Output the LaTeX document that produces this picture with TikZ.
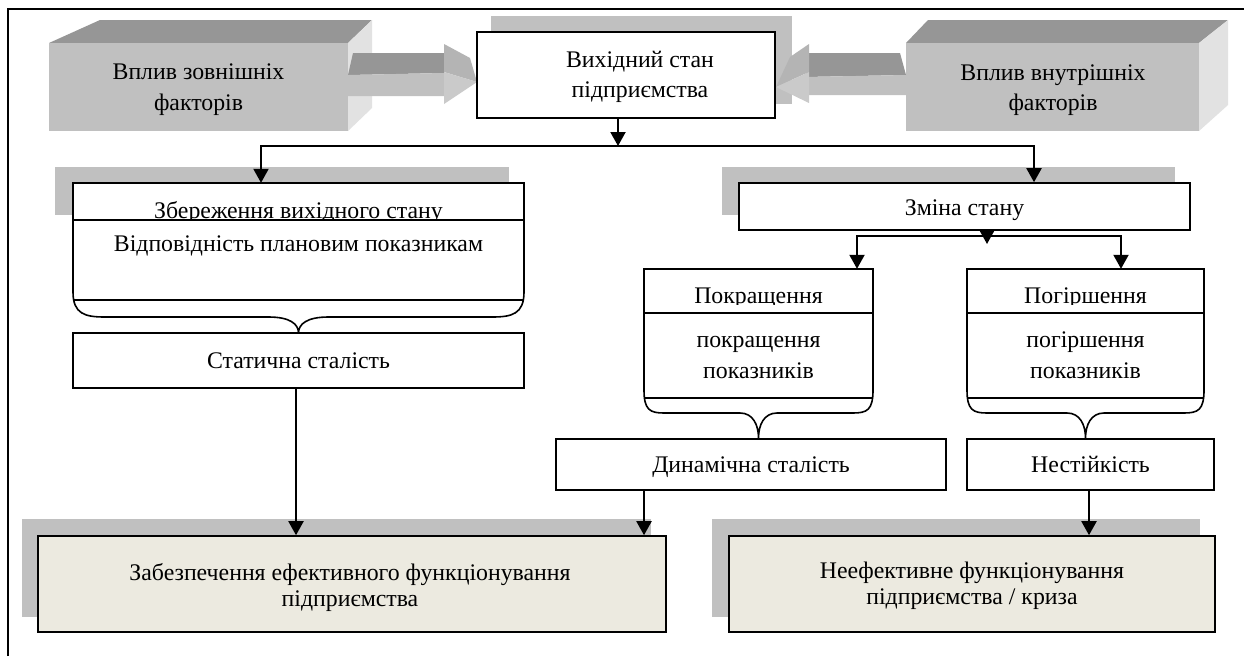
\documentclass[tikz,border=0pt]{standalone}
\usepackage{fontspec}
\setmainfont{Liberation Serif}
\usetikzlibrary{arrows.meta}
\definecolor{facec}{HTML}{C0C0C0}
\definecolor{topc}{HTML}{969696}
\definecolor{sidec}{HTML}{E2E2E2}
\definecolor{shadc}{HTML}{C0C0C0}
\definecolor{beigec}{HTML}{ECEAE0}
\definecolor{headtc}{HTML}{B4B4B4}
\definecolor{headfc}{HTML}{CACACA}
\begin{document}
\begin{tikzpicture}[x=1pt,y=-1pt,
  box/.style={draw=black, line width=1.6pt, fill=white, inner sep=0pt},
  fbox/.style={draw=black, line width=1.6pt, fill=beigec, inner sep=0pt},
  ghost/.style={inner sep=0pt},
  face/.style={fill=facec, inner sep=0pt},
  txt/.style={font=\fontsize{23.8}{28}\selectfont, inner sep=0pt, anchor=base},
  outl/.style={draw=black, line width=1.6pt},
  conn/.style={draw=black, line width=2pt},
  arr/.style={conn, -{Triangle[length=14pt,width=15pt]}},
  arrtwo/.style={conn, {Triangle[length=14pt,width=15pt]}-{Triangle[length=14pt,width=15pt]}}
]
\useasboundingbox (0,0) rectangle (1244,656);
\fill[white] (0,0) rectangle (1244,656);
% frame
\draw[line width=1.6pt] (8,656) -- (8,9) -- (1244,9);

% ---------- left 3D box ----------
\fill[topc] (49,43) -- (100,20) -- (372,20) -- (348,43) -- cycle;
\fill[sidec] (348,43) -- (372,20) -- (372,108) -- (348,131) -- cycle;
\node[face, minimum width=299pt, minimum height=88pt] (ext) at (198.5,87) {};
\node[txt] (ext1) at (198.5,79) {Вплив зовнішніх};
\node[txt] (ext2) at (198.5,110) {факторів};

% ---------- right 3D box ----------
\fill[topc] (906,43) -- (928,20) -- (1228,20) -- (1199,43) -- cycle;
\fill[sidec] (1199,43) -- (1228,20) -- (1228,105) -- (1199,131) -- cycle;
\node[face, minimum width=293pt, minimum height=88pt] (int) at (1052.5,87) {};
\node[txt] (int1) at (1053,80) {Вплив внутрішніх};
\node[txt] (int2) at (1053,110) {факторів};

% ---------- centre box ----------
\fill[shadc] (491,16) rectangle (792,104);

% left 3D arrow
\fill[topc] (348,75) -- (353,53) -- (444,53) -- (444,73) -- cycle;
\fill[facec] (348,75) -- (444,73) -- (444,96) -- (348,96) -- cycle;
\fill[headtc] (444,44) -- (470,58) -- (477,82) -- (444,72) -- cycle;
\fill[headfc] (444,72) -- (477,82) -- (444,104) -- cycle;
% right 3D arrow
\fill[topc] (809,53) -- (900,53) -- (906,75) -- (805,77) -- cycle;
\fill[facec] (805,77) -- (906,75) -- (906,95) -- (805,95) -- cycle;
\fill[headtc] (809,44) -- (809,72) -- (776,87) -- (790,57) -- cycle;
\fill[headfc] (776,87) -- (809,72) -- (809,103) -- cycle;

\node[box, minimum width=298pt, minimum height=86pt] (vyh) at (626,75) {};
\node[txt] (vyh1) at (640,67) {Вихідний стан};
\node[txt] (vyh2) at (640,97) {підприємства};

% ---------- shadows ----------
\fill[shadc] (55,167) rectangle (509,215);
\fill[shadc] (722,167) rectangle (1175,215);
\fill[shadc] (22,519) rectangle (651,617);
\fill[shadc] (712,519) rectangle (1200,617);

% ---------- Збереження (brace box) ----------
\node[ghost, minimum width=451pt, minimum height=117pt] (zb) at (298.5,241.5) {};
\filldraw[outl, fill=white] (73,183) -- (73,292) .. controls (73,314) and (85,317) .. (105,317)
  -- (268.5,317) .. controls (290,317) and (298.5,324) .. (298.5,333)
  .. controls (298.5,324) and (307,317) .. (328.5,317) -- (492,317)
  .. controls (512,317) and (524,314) .. (524,292) -- (524,183) -- cycle;
\draw[outl] (73,220) -- (524,220);
\draw[outl] (73.5,300) -- (523.5,300);
\begin{scope}
\clip (74,184) rectangle (523,219);
\node[txt] (zb1) at (298.5,218) {Збереження вихідного стану};
\end{scope}
\node[txt] (zb2) at (298.5,251) {Відповідність плановим показникам};

\node[box, minimum width=451pt, minimum height=55pt] (st) at (298.5,360.5) {};
\node[txt] (st1) at (298.5,368) {Статична сталість};

% ---------- Зміна стану ----------
\node[box, minimum width=451pt, minimum height=47pt] (zm) at (964.5,206.5) {};
\node[txt] (zm1) at (964.5,215) {Зміна стану};

% ---------- Покращення ----------
\node[ghost, minimum width=229pt, minimum height=129pt] (pk) at (758.5,333.5) {};
\filldraw[outl, fill=white] (644,269) -- (644,390) .. controls (644,410) and (650,413) .. (664,413)
  -- (740,413) .. controls (753,413) and (758.5,425) .. (758.5,438)
  .. controls (758.5,425) and (764,413) .. (777,413) -- (853,413)
  .. controls (867,413) and (873,410) .. (873,390) -- (873,269) -- cycle;
\draw[outl] (644,313) -- (873,313);
\draw[outl] (644.5,398) -- (872.5,398);
\begin{scope}
\clip (645,270) rectangle (872,304);
\node[txt] (pk1) at (758.5,303) {Покращення};
\end{scope}
\node[txt] (pk2) at (758.5,347) {покращення};
\node[txt] (pk3) at (758.5,378) {показників};

% ---------- Погіршення ----------
\node[ghost, minimum width=237pt, minimum height=129pt] (pg) at (1085.5,333.5) {};
\filldraw[outl, fill=white] (967,269) -- (967,390) .. controls (967,410) and (973,413) .. (987,413)
  -- (1067,413) .. controls (1080,413) and (1085.5,425) .. (1085.5,438)
  .. controls (1085.5,425) and (1091,413) .. (1104,413) -- (1184,413)
  .. controls (1198,413) and (1204,410) .. (1204,390) -- (1204,269) -- cycle;
\draw[outl] (967,313) -- (1204,313);
\draw[outl] (967.5,398) -- (1203.5,398);
\begin{scope}
\clip (968,270) rectangle (1203,304);
\node[txt] (pg1) at (1085.5,303) {Погіршення};
\end{scope}
\node[txt] (pg2) at (1085.5,347) {погіршення};
\node[txt] (pg3) at (1085.5,378) {показників};

% ---------- Динамічна / Нестійкість ----------
\node[box, minimum width=390pt, minimum height=51pt] (dn) at (751,464.5) {};
\node[txt] (dn1) at (751,472) {Динамічна сталість};
\node[box, minimum width=247pt, minimum height=51pt] (ns) at (1090.5,464.5) {};
\node[txt] (ns1) at (1090.5,472) {Нестійкість};

% ---------- bottom boxes ----------
\node[fbox, minimum width=628pt, minimum height=96pt] (zf) at (352,584) {};
\node[txt] (zf1) at (350,580) {Забезпечення ефективного функціонування};
\node[txt] (zf2) at (350,606) {підприємства};
\node[fbox, minimum width=486pt, minimum height=96pt] (nf) at (972,584) {};
\node[txt] (nf1) at (972,578) {Неефективне функціонування};
\node[txt] (nf2) at (972,604) {підприємства / криза};

% ---------- connectors ----------
\coordinate (jM) at (618,146);
\coordinate (jL) at (261,146);
\coordinate (jR) at (1034,146);
\draw[arr] (vyh.south -| jM) -- (jM);
\draw[arrtwo] (zb.north -| jL) |- (jR) -- (zm.north -| jR);

\coordinate (kL) at (857,236);
\coordinate (kR) at (1121,236);
\coordinate (kT) at (987,244);
\draw[arrtwo] (pk.north -| kL) |- (kR) -- (pg.north -| kR);
\draw[arr] (zm.south -| kT) -- (kT);

\coordinate (aS) at (296,388);
\draw[arr] (st.south -| aS) -- (zf.north -| aS);
\coordinate (aD) at (644,490);
\draw[arr] (dn.south -| aD) -- (zf.north -| aD);
\coordinate (aN) at (1089,490);
\draw[arr] (ns.south -| aN) -- (nf.north -| aN);
\end{tikzpicture}
\end{document}
